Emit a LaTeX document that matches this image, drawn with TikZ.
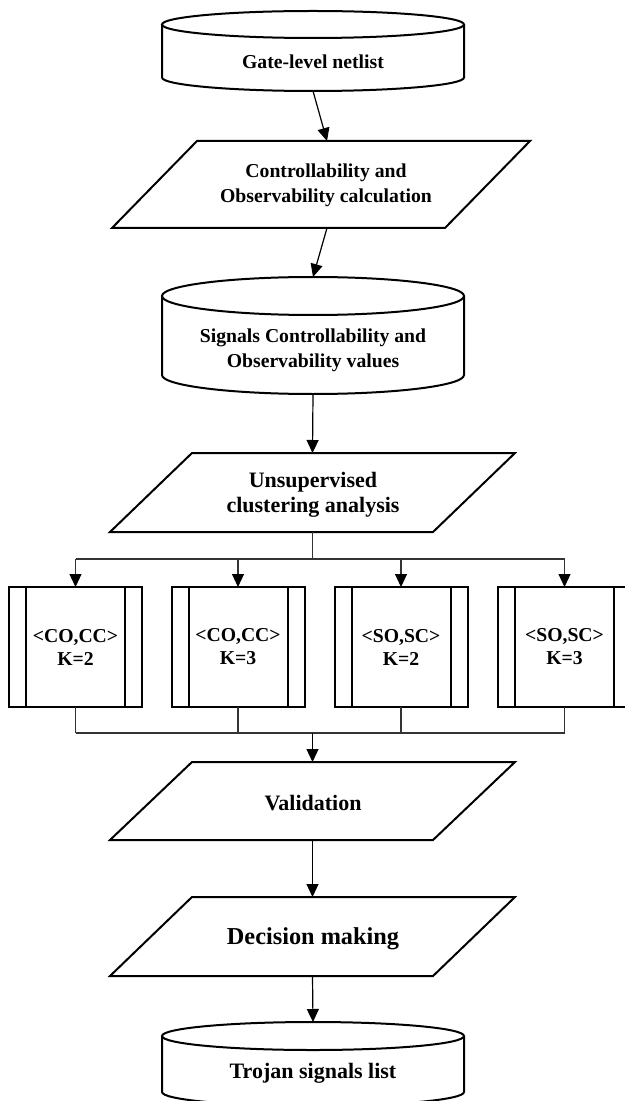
\documentclass[tikz,border=0pt]{standalone}
\usepackage{fontspec}
\setmainfont{Liberation Serif}
\usetikzlibrary{arrows.meta,calc}
\tikzset{
  shapeline/.style={line width=1pt,draw=black},
  conn/.style={line width=0.6pt,draw=black,-{Triangle[length=6.5pt,width=6pt,color=black]}},
  tree/.style={line width=0.55pt,draw=black!80},
  treearrow/.style={line width=0.55pt,draw=black!80,-{Triangle[length=6.5pt,width=6pt,color=black]}},
  body/.style={draw=none,inner sep=0pt,outer sep=0pt},
  tten/.style={font=\bfseries\fontsize{9.85}{12.5}\selectfont,align=center,inner sep=0pt},
  televen/.style={font=\bfseries\fontsize{11}{12.5}\selectfont,align=center,inner sep=0pt},
  ttwelve/.style={font=\bfseries\fontsize{12.15}{14}\selectfont,align=center,inner sep=0pt},
  kbox/.style={shapeline,inner sep=0pt,outer sep=0pt,minimum width=66.5pt,minimum height=60pt,
    font=\bfseries\fontsize{9.85}{11.5}\selectfont,align=center},
}
\newcommand\drawcyl[2]{%
  \draw[shapeline] ([yshift=-#2]#1.north west) -- ([yshift=#2]#1.south west)
    arc[start angle=180,end angle=360,x radius=75.5pt,y radius=#2] -- ([yshift=-#2]#1.north east);
  \draw[shapeline] ([yshift=-#2]#1.north) ellipse[x radius=75.5pt,y radius=#2];
}
\newcommand\drawpar[2]{%
  \draw[shapeline] ([xshift=#2]#1.north west) -- (#1.north east) -- ([xshift=-#2]#1.south east) -- (#1.south west) -- cycle;
}
\newcommand\kside[1]{%
  \draw[shapeline] ([xshift=8.5pt]#1.north west) -- ([xshift=8.5pt]#1.south west);
  \draw[shapeline] ([xshift=-8.5pt]#1.north east) -- ([xshift=-8.5pt]#1.south east);
}
\begin{document}
\begin{tikzpicture}[x=0.5pt,y=-0.5pt]
\useasboundingbox (0,0) rectangle (625,1101);
\clip (0,0) rectangle (625,1101);
\fill[white] (0,0) rectangle (625,1101);

% shape bodies
\node[body,minimum width=151pt,minimum height=40pt] (c1) at (313,51) {};
\node[body,minimum width=209pt,minimum height=43.5pt] (p1) at (321,184.5) {};
\node[body,minimum width=151pt,minimum height=58.5pt] (c2) at (313,335.5) {};
\node[body,minimum width=202.5pt,minimum height=39.5pt] (p2) at (312.5,492.5) {};
\node[body,minimum width=202.5pt,minimum height=39pt] (v) at (312.5,801) {};
\node[body,minimum width=202.5pt,minimum height=39.5pt] (d) at (312.5,936.5) {};
\node[body,minimum width=151pt,minimum height=42pt] (c3) at (313,1064) {};

\drawcyl{c1}{6.75pt}
\drawpar{p1}{42.5pt}
\drawcyl{c2}{9.5pt}
\drawpar{p2}{41pt}
\drawpar{v}{41pt}
\drawpar{d}{41pt}
\drawcyl{c3}{7pt}

% texts
\node[tten] (c1t) at (313,62) {Gate-level netlist};
\node[tten] (p1t) at (326,185.5) {Controllability and\\Observability calculation};
\node[tten] (c2t) at (313,350) {Signals Controllability and\\Observability values};
\node[televen] (p2t) at (313,494.5) {Unsupervised\\clustering analysis};
\node[televen] (vt) at (313,803) {Validation};
\node[ttwelve] (dt) at (313,939) {Decision making};
\node[televen] (c3t) at (313,1073) {Trojan signals list};

% cluster boxes
\node[kbox] (b1) at (75.5,647) {<CO,CC>\\K=2};
\node[kbox] (b2) at (238,647) {<CO,CC>\\K=3};
\node[kbox] (b3) at (401,647) {<SO,SC>\\K=2};
\node[kbox] (b4) at (564.5,647) {<SO,SC>\\K=3};
\kside{b1}\kside{b2}\kside{b3}\kside{b4}

% connectors
\coordinate (split) at (312.5,559);
\coordinate (join) at (312.5,733);
\draw[conn] (c1.south) -- ([xshift=3pt]p1.north);
\draw[conn] ([xshift=3pt]p1.south) -- (c2.north);
\draw[conn] (c2.south) -- (p2.north);
\draw[tree] (p2.south) -- (split);
\draw[tree] (b1.north |- split) -- (b4.north |- split);
\foreach \b in {b1,b2,b3,b4}{
  \draw[treearrow] (\b.north |- split) -- (\b.north);
  \draw[tree] (\b.south) -- (\b.south |- join);
}
\draw[tree] (b1.south |- join) -- (b4.south |- join);
\draw[conn] (join) -- (v.north);
\draw[conn] (v.south) -- (d.north);
\draw[conn] (d.south) -- (c3.north);
\end{tikzpicture}
\end{document}
